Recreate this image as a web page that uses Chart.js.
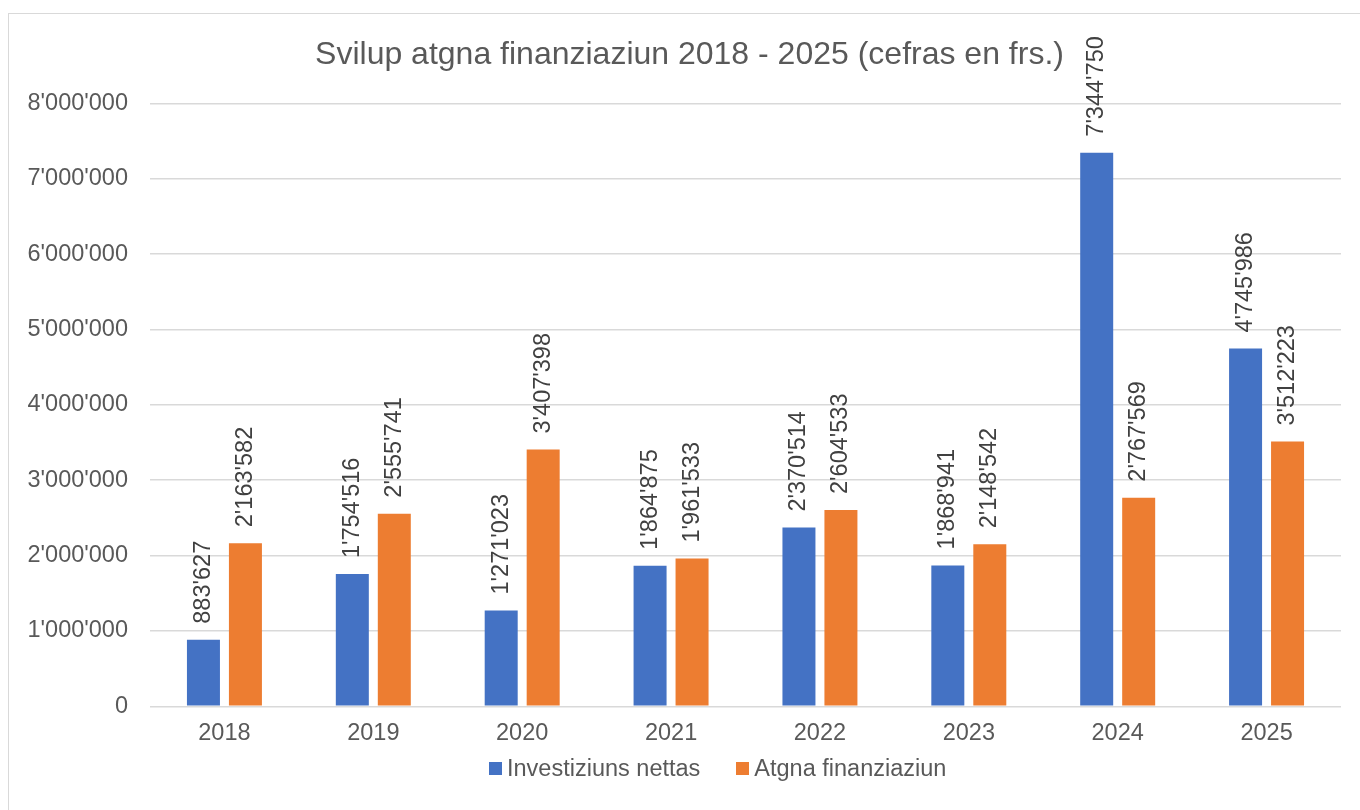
<!DOCTYPE html>
<html>
<head>
<meta charset="utf-8">
<title>Svilup atgna finanziaziun</title>
<script src="https://cdn.jsdelivr.net/npm/chart.js@4.4.1/dist/chart.umd.min.js"></script>
<style>
    html, body { margin: 0; padding: 0; background: #fff; overflow: hidden; }
    #wrap { position: relative; width: 1360px; height: 810px; overflow: hidden; }
    #frame {
        position: absolute; left: 8px; top: 13px; width: 1400px; height: 900px;
        border: 1.5px solid #D9D9D9; pointer-events: none;
    }
    #title {
        position: absolute; left: 0; top: 36.5px; width: 1379px; text-align: center;
        font-family: "Liberation Sans", Arial, sans-serif; font-size: 32px;
        line-height: 32px; color: #595959; white-space: nowrap;
    }
    #legend {
        position: absolute; left: 489px; top: 755px; display: flex;
        font-family: "Liberation Sans", Arial, sans-serif; font-size: 23.5px;
        color: #595959; line-height: 27px;
    }
    #legend .item { display: flex; align-items: center; margin-right: 36px; }
    #legend .box { width: 13px; height: 13px; margin-right: 5px; }
</style>
</head>
<body>
<div id="wrap">
    <canvas id="chart" width="1360" height="810"></canvas>
    <div id="frame"></div>
    <div id="title"></div>
    <div id="legend"></div>
</div>
<script>
// Datos del gráfico
const anos = ["2018", "2019", "2020", "2021", "2022", "2023", "2024", "2025"];
const investiziunsNettas = [883627, 1754516, 1271023, 1864875, 2370514, 1868941, 7344750, 4745986];
const atgnaFinanziaziun = [2163582, 2555741, 3407398, 1961533, 2604533, 2148542, 2767569, 3512223];
const titel = "Svilup atgna finanziaziun 2018 - 2025 (cefras en frs.)";

const fontFamily = '"Liberation Sans", Arial, sans-serif';
Chart.defaults.font.family = fontFamily;
Chart.defaults.color = "#595959";

// separador de miles con apóstrofo
function fmt(v) {
    return String(v).replace(/\B(?=(\d{3})+(?!\d))/g, "'");
}

// etiquetas rotadas encima de cada barra
const etiquetasBarras = {
    id: "etiquetasBarras",
    afterDatasetsDraw(chart) {
        const ctx = chart.ctx;
        ctx.save();
        ctx.font = "23.5px " + fontFamily;
        ctx.fillStyle = "#404040";
        chart.data.datasets.forEach((ds, i) => {
            chart.getDatasetMeta(i).data.forEach((bar, j) => {
                ctx.save();
                ctx.translate(bar.x, bar.y - 16);
                ctx.rotate(-Math.PI / 2);
                ctx.textAlign = "left";
                ctx.textBaseline = "middle";
                ctx.fillText(fmt(ds.data[j]), 0, 0);
                ctx.restore();
            });
        });
        ctx.restore();
    }
};

document.getElementById("title").textContent = titel;

const ctx = document.getElementById("chart").getContext("2d");
const chart = new Chart(ctx, {
    type: "bar",
    data: {
        labels: anos,
        datasets: [
            {
                label: "Investiziuns nettas",
                data: investiziunsNettas,
                backgroundColor: "#4472C4",
                categoryPercentage: 0.564,
                barPercentage: 0.786
            },
            {
                label: "Atgna finanziaziun",
                data: atgnaFinanziaziun,
                backgroundColor: "#ED7D31",
                categoryPercentage: 0.564,
                barPercentage: 0.786
            }
        ]
    },
    options: {
        responsive: false,
        animation: false,
        layout: { padding: { left: 0, right: 19, top: 103.3, bottom: 57.5 } },
        plugins: {
            legend: { display: false },
            tooltip: { enabled: false },
            title: { display: false }
        },
        scales: {
            x: {
                grid: { display: false },
                border: { display: false },
                ticks: { font: { size: 23.5 }, color: "#595959", padding: 5 }
            },
            y: {
                min: 0,
                max: 8000000,
                afterFit(scale) { scale.width = 150; },
                grid: { color: "#D9D9D9", lineWidth: 1.5, drawTicks: false },
                border: { display: false },
                ticks: {
                    stepSize: 1000000,
                    font: { size: 23.5 },
                    color: "#595959",
                    padding: 22,
                    callback: v => fmt(v)
                }
            }
        }
    },
    plugins: [etiquetasBarras]
});

// leyenda en HTML
const leyenda = document.getElementById("legend");
chart.data.datasets.forEach(ds => {
    const item = document.createElement("div");
    item.className = "item";
    const box = document.createElement("span");
    box.className = "box";
    box.style.background = ds.backgroundColor;
    const txt = document.createElement("span");
    txt.textContent = ds.label;
    item.appendChild(box);
    item.appendChild(txt);
    leyenda.appendChild(item);
});
</script>
</body>
</html>
